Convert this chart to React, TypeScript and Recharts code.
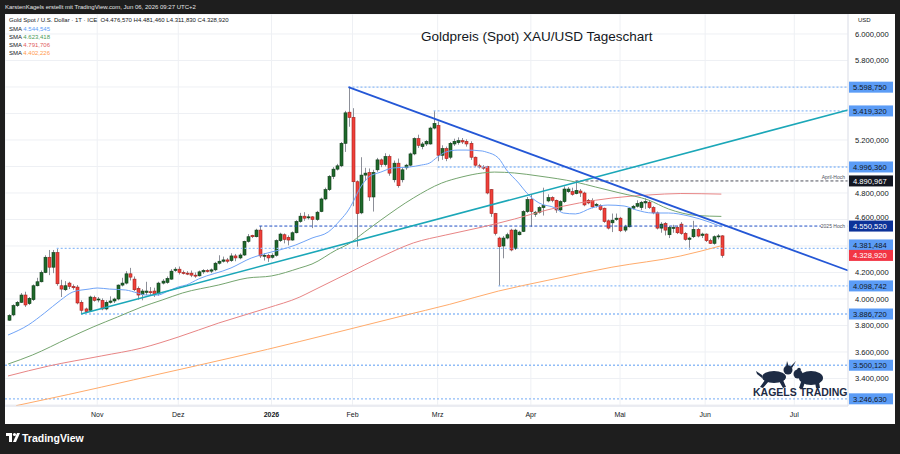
import React from "react";
import { ComposedChart, Bar, Line, XAxis, YAxis, CartesianGrid, ReferenceLine } from "recharts";

// ---------- DATA ----------
const opens = [
  3840,3880,3950,3975,4030,3965,3995,4100,4130,4200,
  4315,4240,4350,4100,4070,4120,4095,4090,3975,3925,
  3915,4010,3995,3990,3925,3975,3985,4000,4105,4120,
  4190,4150,4080,4035,4050,4055,4060,4040,4120,4125,
  4150,4215,4225,4200,4195,4195,4180,4175,4205,4215,
  4210,4220,4270,4285,4295,4290,4325,4310,4332,4435,
  4480,4470,4520,4325,4330,4315,4330,4440,4485,4465,
  4445,4500,4585,4625,4615,4620,4600,4660,4755,4825,
  4925,4980,5005,5175,5410,5370,4885,4650,4935,4955,
  4770,4975,5050,5015,5075,4900,5025,4900,4990,5010,
  5095,5210,5150,5170,5170,5290,5310,5085,5135,5070,
  5170,5180,5195,5190,5175,5070,5005,4995,5000,4825,
  4645,4460,4400,4460,4520,4380,4485,4510,4660,4750,
  4640,4655,4690,4740,4765,4745,4672,4735,4810,4810,
  4795,4815,4800,4745,4745,4705,4705,4685,4590,4575,
  4600,4610,4520,4545,4685,4700,4690,4725,4730,4690,
  4650,4535,4570,4485,4535,4540,4565,4495,4450,4470,
  4525,4480,4490,4440,4420,4470,4476.57,
];
const highs = [
  3885,3960,3985,4045,4055,4015,4110,4160,4215,4330,
  4370,4370,4381.48,4145,4135,4130,4110,4105,3990,3935,
  4025,4025,4015,4005,3990,4020,4010,4110,4160,4210,
  4235,4170,4095,4075,4130,4090,4085,4130,4150,4170,
  4225,4240,4245,4215,4210,4215,4200,4215,4225,4225,
  4230,4280,4330,4320,4310,4345,4340,4345,4440,4490,
  4485,4530,4550.52,4345,4340,4345,4450,4500,4495,4480,
  4510,4595,4650,4655,4640,4625,4665,4765,4840,4935,
  4995,5020,5185,5420,5598.75,5440,4895,5070,4990,4985,
  4975,5065,5060,5100,5090,5045,5060,4990,5020,5105,
  5220,5240,5185,5200,5300,5419.32,5340,5160,5150,5185,
  5210,5220,5215,5205,5190,5075,5020,5010,5005,4830,
  4650,4470,4475,4500,4530,4530,4515,4670,4770,4790,
  4665,4700,4840,4790,4775,4750,4745,4850,4845,4840,
  4890.97,4830,4810,4755,4760,4725,4715,4690,4600,4645,
  4645,4620,4560,4695,4710,4745,4740,4760,4745,4700,
  4660,4580,4580,4550,4560,4555,4580,4505,4470,4590,
  4535,4500,4495,4455,4480,4490,4481.46,
];
const lows = [
  3835,3870,3940,3970,3940,3955,3985,4095,4125,4195,
  4180,4195,4100,4015,4060,4075,4070,3960,3886.72,3895,
  3905,3980,3975,3915,3915,3965,3970,3990,4095,4110,
  4140,4060,3995,3990,4030,4030,4015,4025,4110,4115,
  4145,4205,4185,4185,4180,4165,4160,4170,4190,4200,
  4195,4210,4260,4275,4270,4280,4285,4300,4325,4425,
  4460,4465,4310,4290,4280,4305,4320,4430,4420,4405,
  4440,4495,4575,4590,4600,4535,4590,4655,4745,4815,
  4905,4970,4995,5110,5300,4700,4395,4640,4890,4740,
  4660,4960,4995,5000,4930,4880,4840,4880,4975,5000,
  5085,5140,5130,5155,5165,5280,5040,5050,5040,5055,
  5155,5165,5170,5150,5050,4995,4985,4975,4790,4620,
  4480,4098.74,4307,4450,4360,4370,4480,4505,4650,4545,
  4620,4645,4630,4730,4730,4650,4660,4725,4800,4780,
  4790,4770,4700,4715,4685,4690,4665,4575,4525,4505,
  4590,4505,4505,4540,4675,4690,4670,4680,4680,4640,
  4525,4500,4480,4460,4500,4490,4485,4440,4372,4460,
  4465,4460,4430,4415,4410,4450,4311.83,
];
const closes = [
  3875,3950,3975,4030,3955,4005,4100,4130,4200,4315,
  4240,4350,4115,4075,4100,4095,4085,3970,3915,3905,
  4015,3990,4000,3925,3975,3985,4000,4105,4120,4190,
  4165,4070,4030,4060,4060,4050,4035,4120,4135,4155,
  4210,4225,4200,4195,4190,4180,4175,4205,4215,4210,
  4220,4270,4285,4295,4285,4325,4310,4332,4435,4470,
  4470,4520,4325,4330,4310,4330,4440,4490,4450,4445,
  4500,4585,4625,4610,4620,4600,4655,4755,4825,4925,
  4980,5005,5175,5405,5370,4885,4645,4935,4950,4770,
  4955,5050,5015,5075,4950,5025,4855,4975,5010,5095,
  5210,5160,5170,5190,5290,5325,5085,5135,5060,5175,
  5190,5195,5185,5170,5070,5010,4996,4990,4800,4645,
  4495,4395,4460,4485,4370,4520,4505,4660,4750,4660,
  4655,4690,4705,4765,4745,4672,4735,4830,4830,4790,
  4820,4800,4710,4725,4695,4715,4675,4585,4535,4595,
  4610,4515,4545,4685,4700,4720,4730,4735,4690,4650,
  4535,4565,4520,4540,4540,4500,4495,4450,4460,4525,
  4475,4490,4440,4420,4470,4476,4328.92,
];

// moving averages: [bar index, value]
const sma20: [number, number][] = [
  [0,3728],[5,3804],[9,3894],[13,3992],[16,4053],[20,4075],[22,4083],[25,4075],[29,4068],[32,4045],
  [34,4030],[37,4030],[39,4053],[42,4091],[44,4106],[47,4151],[55,4234],[60,4309],[64,4347],[67,4370],
  [71,4408],[75,4460],[79,4506],[82,4596],[84,4672],[85,4725],[87,4845],[89,4921],[92,4958],[95,4989],
  [99,4996],[102,5011],[104,5026],[106,5072],[108,5109],[111,5124],[113,5124],[117,5117],[118,5109],
  [121,5064],[123,4974],[126,4875],[128,4800],[131,4725],[135,4687],[137,4649],[140,4642],[144,4687],
  [148,4709],[152,4702],[155,4672],[159,4649],[163,4649],[168,4626],[173,4581],[176,4544.545],
];
const sma50: [number, number][] = [
  [0,3509],[6,3577],[15,3706],[21,3789],[27,3864],[33,3940],[38,3992],[43,4045],[52,4106],[59,4158],
  [65,4174],[72,4234],[75,4264],[81,4370],[84,4415],[88,4506],[92,4596],[100,4762],[107,4875],
  [112,4921],[117,4951],[120,4958],[125,4951],[131,4928],[140,4883],[145,4845],[151,4800],[158,4747],
  [163,4679],[170,4630],[176,4623.418],
];
const sma100: [number, number][] = [
  [0,3419],[10,3494],[23,3570],[33,3630],[42,3713],[52,3819],[64,3932],[72,4015],[75,4060],[84,4196],
  [92,4317],[100,4423],[108,4483],[117,4543],[125,4604],[133,4672],[141,4725],[149,4762],[158,4785],
  [166,4796],[176,4791.706],
];
const sma200: [number, number][] = [
  [2,3195],[15,3280],[31,3390],[47,3500],[64,3620],[80,3740],[97,3870],[109,3960],[121,4060],
  [133,4140],[149,4240],[166,4325],[176,4402.226],
];

const monthTicks = [22, 42, 65, 85, 106, 129, 151, 172, 194];
const monthLabels = ["Nov", "Dez", "2026", "Feb", "Mrz", "Apr", "Mai", "Jun", "Jul"];

const priceTicks = [3200,3400,3600,3800,4000,4200,4400,4600,4800,5000,5200,5400,5600,5800,6000];
const hiddenPriceTicks = [3200, 4400, 5000, 5400, 5600];

// horizontal levels: value + bar index where the line starts
const levelValues = [5598.75, 5419.32, 4996.36, 4890.967, 4550.52, 4381.484, 4098.742, 3886.72, 3500.12, 3246.63];
const levelStarts = [84, 105, 106, 140, 62, 12, 121, 18, -0.75, -0.75];
const levelNames = ["", "", "", "April-Hoch", "2025 Hoch", "", "", "", "", ""];
const lastPrice = 4328.92;

// trend lines: [bar index, price] pairs
const downTrend: [number, number][] = [[84, 5598.75], [207.25, 4215]];
const upTrend: [number, number][] = [[18, 3886.72], [207.25, 5426]];

// ---------- STYLE ----------
const FONT = '"Liberation Sans", Arial, sans-serif';
const X_DOMAIN: [number, number] = [-0.75, 207.25];
const Y_DOMAIN: [number, number] = [3192.45, 6150.94];
const levelKinds = ["blue", "blue", "blue", "black", "navy", "blue", "blue", "blue", "blue", "blue"];
const levelTagShift = [0, 0, 0, 0, 0, -3.5, 0, 0, 0, 0];
const tickNudge: Record<number, number> = { 4600: -2.2 };
const kindStyle: Record<string, { line: string; bg: string; fg: string; w: number }> = {
  blue: { line: "#8fbcf7", bg: "#5b9cf6", fg: "#131722", w: 1.3 },
  black: { line: "#50535e", bg: "#131722", fg: "#ffffff", w: 1 },
  navy: { line: "#1f4fc4", bg: "#0c3299", fg: "#ffffff", w: 1 },
  red: { line: "none", bg: "#f23645", fg: "#ffffff", w: 1 },
};

const de = (v: number) => {
  const [a, b] = v.toFixed(3).split(".");
  return a.replace(/\B(?=(\d{3})+(?!\d))/g, ".") + "," + b;
};

const Candle = (props: any) => {
  const { x, y, width, height, payload } = props;
  if (!payload || payload.o == null) return null;
  const { o, h, l, c } = payload;
  const top = Math.min(y, y + height);
  const hh = Math.abs(height);
  const span = h - l || 1;
  const py = (v: number) => top + ((h - v) / span) * hh;
  const cx = Math.round(x + width / 2) + 0.5;
  const up = c >= o;
  const bTop = py(Math.max(o, c));
  const bBot = py(Math.min(o, c));
  return (
    <g>
      <line x1={cx} x2={cx} y1={top} y2={top + hh} stroke="#8c8f98" strokeWidth={1} />
      <rect
        x={cx - 1.5}
        y={bTop}
        width={3}
        height={Math.max(1, bBot - bTop)}
        fill={up ? "#1e6a2c" : "#f0403a"}
        stroke={up ? "#0e3a17" : "#a3201c"}
        strokeWidth={0.6}
      />
    </g>
  );
};

const MonthTick = (props: any) => {
  const { x, y, payload } = props;
  const k = monthTicks.indexOf(payload.value);
  const label = monthLabels[k];
  return (
    <text x={x} y={y + 9} dy="0.35em" textAnchor="middle" fontSize={7} fontFamily={FONT}
      fontWeight={label === "2026" ? "bold" : "normal"} fill="#131722">{label}</text>
  );
};

const PriceTick = (props: any) => {
  const { x, y, payload } = props;
  if (hiddenPriceTicks.includes(payload.value)) return null;
  const ny = tickNudge[payload.value] || 0;
  return (
    <text x={x + 7} y={y + ny} dy="0.35em" fontSize={7.6} fontFamily={FONT} fill="#131722">{de(payload.value)}</text>
  );
};

const PriceTag = (props: any) => {
  const { viewBox, value, kind, shift = 0, note } = props;
  if (!viewBox) return null;
  const st = kindStyle[kind];
  const right = viewBox.x + viewBox.width;
  const y = viewBox.y + shift;
  return (
    <g>
      {note ? (
        <g>
          {kind === "navy" ? <rect x={right - 27} y={viewBox.y - 3} width={26} height={6} fill="#ffffff" /> : null}
          <text x={right - 3} y={kind === "navy" ? viewBox.y : viewBox.y - 4} dy="0.35em" textAnchor="end"
            fontSize={5} fontFamily={FONT} fill="#50535e">{note}</text>
        </g>
      ) : null}
      <rect x={right + 1} y={y - 5.5} width={44} height={11} fill={st.bg} />
      <text x={right + 5} y={y} dy="0.36em" fontSize={7.6} fontFamily={FONT} fill={st.fg}>{de(value)}</text>
    </g>
  );
};

export default function App() {
  const rows: any[] = opens.map((o, i) => ({
    i, o, h: highs[i], l: lows[i], c: closes[i], range: [lows[i], highs[i]],
    s20: null, s50: null, s100: null, s200: null,
  }));
  sma20.forEach(([i, v]) => (rows[i].s20 = v));
  sma50.forEach(([i, v]) => (rows[i].s50 = v));
  sma100.forEach(([i, v]) => (rows[i].s100 = v));
  sma200.forEach(([i, v]) => (rows[i].s200 = v));

  return (
    <div style={{ position: "absolute", left: 0, top: 0, width: 900, height: 454, background: "#1e1e1e", overflow: "hidden", fontFamily: FONT }}>
      <div style={{ position: "absolute", left: 5, top: 3, color: "#e6e6e6", fontSize: 6, lineHeight: "8px", whiteSpace: "nowrap" }}>
        KarstenKagels erstellt mit TradingView.com, Jun 06, 2026 09:27 UTC+2
      </div>
      <div style={{ position: "absolute", left: 5, top: 14, width: 890, height: 410, background: "#ffffff" }}>
        <ComposedChart width={890} height={410} data={rows} margin={{ top: 0, right: 0, bottom: 0, left: 0 }}>
          <CartesianGrid stroke="#eef0f4" />
          <XAxis dataKey="i" type="number" domain={X_DOMAIN} ticks={monthTicks} interval={0} allowDataOverflow
            tick={<MonthTick />} tickLine={false} tickSize={0} tickMargin={0} axisLine={{ stroke: "#e0e3eb" }} height={18} />
          <YAxis orientation="right" type="number" domain={Y_DOMAIN} ticks={priceTicks} interval={0} allowDataOverflow
            tick={<PriceTick />} tickLine={false} tickSize={0} tickMargin={0} axisLine={{ stroke: "#e0e3eb" }} width={47} />
          {levelValues.map((v, k) => {
            const st = kindStyle[levelKinds[k]];
            return (
              <ReferenceLine key={"lv" + k}
                segment={[{ x: levelStarts[k], y: v }, { x: X_DOMAIN[1], y: v }]}
                stroke={st.line} strokeWidth={st.w} strokeDasharray={levelKinds[k] === "blue" ? "2 2" : "3 2"}
                label={<PriceTag value={v} kind={levelKinds[k]} shift={levelTagShift[k]} note={levelNames[k]} />} />
            );
          })}
          <Line dataKey="s200" type="monotone" stroke="#ffab6b" strokeWidth={1} dot={false} connectNulls isAnimationActive={false} />
          <Line dataKey="s100" type="monotone" stroke="#e88585" strokeWidth={1} dot={false} connectNulls isAnimationActive={false} />
          <Line dataKey="s50" type="monotone" stroke="#75a56f" strokeWidth={1} dot={false} connectNulls isAnimationActive={false} />
          <Line dataKey="s20" type="monotone" stroke="#6fa3f7" strokeWidth={1} dot={false} connectNulls isAnimationActive={false} />
          <ReferenceLine segment={[{ x: upTrend[0][0], y: upTrend[0][1] }, { x: upTrend[1][0], y: upTrend[1][1] }]}
            stroke="#1ba7b8" strokeWidth={1.6} />
          <ReferenceLine segment={[{ x: downTrend[0][0], y: downTrend[0][1] }, { x: downTrend[1][0], y: downTrend[1][1] }]}
            stroke="#2457d6" strokeWidth={1.8} />
          <Bar dataKey="range" barSize={3} shape={<Candle />} isAnimationActive={false} />
          <ReferenceLine y={lastPrice} stroke="none" label={<PriceTag value={lastPrice} kind="red" />} />
        </ComposedChart>

        <div style={{ position: "absolute", left: 4, top: 2, fontSize: 6, lineHeight: "8px", color: "#131722", whiteSpace: "nowrap" }}>
          Gold Spot / U.S. Dollar · 1T · ICE&nbsp;&nbsp;O4.476,570 H4.481,460 L4.311,830 C4.328,920
        </div>
        {[["4.544,545", "#5b9cf6"], ["4.623,418", "#4c9a58"], ["4.791,706", "#e05c5c"], ["4.402,226", "#ff9a4d"]].map(([t, col], k) => (
          <div key={k} style={{ position: "absolute", left: 4, top: 10.5 + k * 8.3, fontSize: 6, lineHeight: "8px", color: "#131722", whiteSpace: "nowrap" }}>
            SMA <span style={{ color: col }}>{t}</span>
          </div>
        ))}
        <div style={{ position: "absolute", left: 853, top: 3, fontSize: 6, color: "#131722" }}>USD</div>
        <div style={{ position: "absolute", left: 416, top: 15, fontSize: 13.5, lineHeight: "16px", color: "#131722", whiteSpace: "nowrap" }}>
          Goldpreis (Spot) XAU/USD Tageschart
        </div>
        <svg style={{ position: "absolute", left: 740, top: 346 }} width={110} height={40}>
          <g fill="#1d2b44">
            <path d="M17 15 L11 11 L12 14 L17 18 Z" />
            <ellipse cx={29} cy={17} rx={12} ry={6} />
            <circle cx={43} cy={10} r={4.5} />
            <path d="M45 7 L51 1 L47 8 Z M41 7 L42 1 L44 7 Z" />
            <path d="M20 20 L15 27 L18 28 L24 21 Z M34 21 L38 28 L41 27 L38 20 Z" />
            <ellipse cx={66} cy={18} rx={12} ry={7} />
            <circle cx={53} cy={14} r={4.5} />
            <circle cx={54} cy={9.5} r={1.8} />
            <path d="M56 22 L54 28 L58 28 L60 22 Z M70 22 L71 28 L75 28 L74 22 Z" />
          </g>
          <text x={8} y={36} fontSize={10.5} fontWeight="bold" fontFamily={FONT} fill="#1d2b44">KAGELS TRADING</text>
        </svg>
      </div>
      <svg style={{ position: "absolute", left: 6, top: 432 }} width={16} height={12}>
        <g fill="#ffffff">
          <rect x={0} y={1} width={6} height={3} />
          <rect x={3} y={1} width={3} height={9} />
          <circle cx={8.5} cy={2.5} r={1.6} />
          <path d="M11 1 L14 1 L10 10 L7 10 Z" />
        </g>
      </svg>
      <div style={{ position: "absolute", left: 22, top: 432, fontSize: 10.5, fontWeight: "bold", color: "#ffffff", lineHeight: "12px", whiteSpace: "nowrap" }}>
        TradingView
      </div>
    </div>
  );
}
